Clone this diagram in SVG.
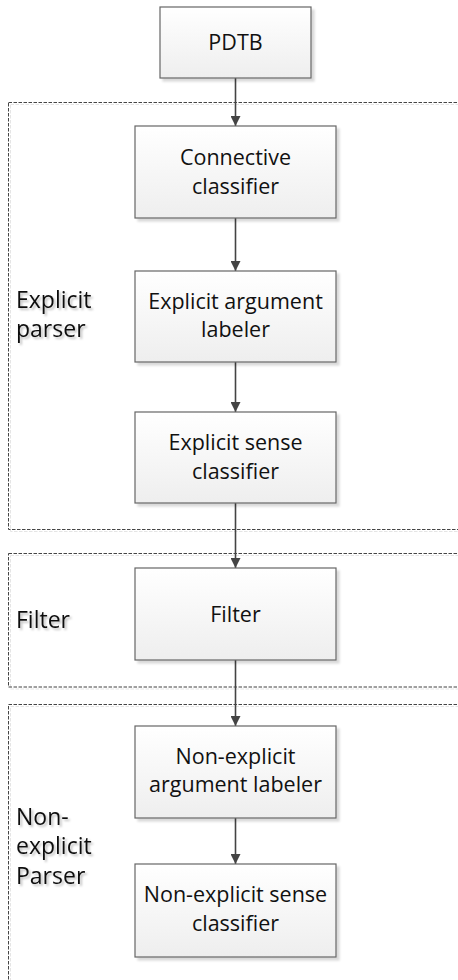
<svg xmlns="http://www.w3.org/2000/svg" width="458" height="980" viewBox="0 0 458 980">
<defs>
<linearGradient id="boxfill" x1="0" y1="0" x2="0" y2="1">
<stop offset="0" stop-color="#ffffff"/>
<stop offset="1" stop-color="#eeeeee"/>
</linearGradient>
<filter id="shadow" x="-10%" y="-10%" width="130%" height="130%">
<feDropShadow dx="3" dy="3" stdDeviation="1" flood-color="#000" flood-opacity="0.15"/>
</filter>
<filter id="tshadow" x="-10%" y="-20%" width="130%" height="150%">
<feDropShadow dx="2" dy="2" stdDeviation="0.8" flood-color="#000" flood-opacity="0.25"/>
</filter>
<filter id="gshadow" x="-5%" y="-5%" width="110%" height="110%">
<feDropShadow dx="2" dy="2" stdDeviation="0.5" flood-color="#000" flood-opacity="0.1"/>
</filter>
<marker id="arrow" viewBox="0 0 10 10" refX="10" refY="5" markerWidth="10" markerHeight="10" markerUnits="userSpaceOnUse" orient="auto">
<path d="M0,0 L10,5 L0,10 Z" fill="#444"/>
</marker>
</defs>
<style>
.group{fill:none;stroke:#444;stroke-width:1;stroke-dasharray:3.5 1.5;}
.box{fill:url(#boxfill);stroke:#666;stroke-width:1.2;filter:url(#shadow);}
.txt{font-family:"Open Sans","Noto Sans",sans-serif;font-size:21.5px;fill:#111;text-anchor:middle;}
.lbl{font-family:"Open Sans","Noto Sans",sans-serif;font-size:23px;fill:#111;filter:url(#tshadow);}
.conn{stroke:#444;stroke-width:1.6;fill:none;marker-end:url(#arrow);}
</style>

<g id="group-explicit">
<rect class="group" x="8.5" y="102.5" width="470" height="427" filter="url(#gshadow)"/>
<text class="lbl" x="16" y="308">Explicit</text>
<text class="lbl" x="16" y="337">parser</text>
</g>
<g id="group-filter">
<rect class="group" x="8.5" y="553.5" width="470" height="133.5" filter="url(#gshadow)"/>
<text class="lbl" x="16" y="628">Filter</text>
</g>
<g id="group-nonexplicit">
<rect class="group" x="8.5" y="704.5" width="470" height="300" filter="url(#gshadow)"/>
<text class="lbl" x="16" y="825">Non-</text>
<text class="lbl" x="16" y="854">explicit</text>
<text class="lbl" x="16" y="884">Parser</text>
</g>

<g id="connectors">
<line class="conn" x1="235.5" y1="78" x2="235.5" y2="126"/>
<line class="conn" x1="235.5" y1="218" x2="235.5" y2="271"/>
<line class="conn" x1="235.5" y1="362" x2="235.5" y2="412"/>
<line class="conn" x1="235.5" y1="503" x2="235.5" y2="568"/>
<line class="conn" x1="235.5" y1="660" x2="235.5" y2="726"/>
<line class="conn" x1="235.5" y1="818" x2="235.5" y2="864"/>
</g>

<g id="node-pdtb">
<rect class="box" x="160" y="7" width="151" height="71"/>
<text class="txt" x="235.5" y="50">PDTB</text>
</g>
<g id="node-connective">
<rect class="box" x="135" y="126" width="201" height="92"/>
<text class="txt" x="235.5" y="165">Connective</text>
<text class="txt" x="235.5" y="193.5">classifier</text>
</g>
<g id="node-explicit-arg">
<rect class="box" x="135" y="271" width="201" height="91"/>
<text class="txt" x="235.5" y="308.5">Explicit argument</text>
<text class="txt" x="235.5" y="337">labeler</text>
</g>
<g id="node-explicit-sense">
<rect class="box" x="135" y="412" width="201" height="91"/>
<text class="txt" x="235.5" y="450">Explicit sense</text>
<text class="txt" x="235.5" y="478.5">classifier</text>
</g>
<g id="node-filter">
<rect class="box" x="135" y="568" width="201" height="92"/>
<text class="txt" x="235.5" y="621.5">Filter</text>
</g>
<g id="node-nonexplicit-arg">
<rect class="box" x="135" y="726" width="201" height="92"/>
<text class="txt" x="235.5" y="763.5">Non-explicit</text>
<text class="txt" x="235.5" y="792">argument labeler</text>
</g>
<g id="node-nonexplicit-sense">
<rect class="box" x="135" y="864" width="201" height="93"/>
<text class="txt" x="235.5" y="902">Non-explicit sense</text>
<text class="txt" x="235.5" y="930.5">classifier</text>
</g>
</svg>
